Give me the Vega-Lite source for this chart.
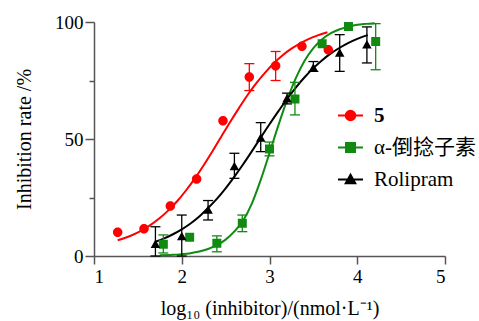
{
  "$schema": "https://vega.github.io/schema/vega-lite/v6.json",
  "width": 351,
  "height": 234,
  "autosize": {"type": "none"},
  "padding": {"left": 94, "top": 22, "right": 34, "bottom": 65},
  "background": "white",
  "config": {
    "view": {"stroke": null},
    "font": "Liberation Serif",
    "axis": {
      "grid": false,
      "domainColor": "#555",
      "domainWidth": 1.5,
      "tickColor": "#555",
      "tickWidth": 1.5,
      "labelFont": "Liberation Serif",
      "labelFontSize": 19,
      "labelColor": "#000",
      "titleFont": "Liberation Serif",
      "titleFontSize": 20,
      "titleFontWeight": "normal",
      "titleColor": "#000"
    }
  },
  "datasets": {
    "points": [
      {"series": "5", "x": 1.27, "y": 10.1, "lo": null, "hi": null},
      {"series": "5", "x": 1.57, "y": 11.6, "lo": null, "hi": null},
      {"series": "5", "x": 1.87, "y": 21.4, "lo": null, "hi": null},
      {"series": "5", "x": 2.17, "y": 32.9, "lo": null, "hi": null},
      {"series": "5", "x": 2.47, "y": 57.8, "lo": null, "hi": null},
      {"series": "5", "x": 2.77, "y": 76.5, "lo": 70.7, "hi": 82.2},
      {"series": "5", "x": 3.07, "y": 81.3, "lo": 75.0, "hi": 87.4},
      {"series": "5", "x": 3.37, "y": 89.6, "lo": null, "hi": null},
      {"series": "5", "x": 3.67, "y": 88.1, "lo": null, "hi": null},
      {"series": "α-倒捻子素", "x": 1.79, "y": 5.0, "lo": 1.3, "hi": 9.0},
      {"series": "α-倒捻子素", "x": 2.09, "y": 8.0, "lo": null, "hi": null},
      {"series": "α-倒捻子素", "x": 2.4, "y": 5.4, "lo": 1.8, "hi": 8.6},
      {"series": "α-倒捻子素", "x": 2.69, "y": 14.0, "lo": 10.4, "hi": 17.5},
      {"series": "α-倒捻子素", "x": 3.0, "y": 45.7, "lo": 42.8, "hi": 48.7},
      {"series": "α-倒捻子素", "x": 3.29, "y": 67.1, "lo": 60.3, "hi": 74.2},
      {"series": "α-倒捻子素", "x": 3.6, "y": 90.7, "lo": null, "hi": null},
      {"series": "α-倒捻子素", "x": 3.9, "y": 98.1, "lo": null, "hi": null},
      {"series": "α-倒捻子素", "x": 4.21, "y": 91.7, "lo": 79.6, "hi": 99.3},
      {"series": "Rolipram", "x": 1.7, "y": 5.0, "lo": 0, "hi": 12.5},
      {"series": "Rolipram", "x": 2.0, "y": 8.3, "lo": 0, "hi": 17.5},
      {"series": "Rolipram", "x": 2.3, "y": 19.7, "lo": 15.4, "hi": 23.7},
      {"series": "Rolipram", "x": 2.6, "y": 38.2, "lo": 33.2, "hi": 43.9},
      {"series": "Rolipram", "x": 2.9, "y": 50.4, "lo": 44.6, "hi": 57.0},
      {"series": "Rolipram", "x": 3.2, "y": 67.2, "lo": 65.0, "hi": 69.6},
      {"series": "Rolipram", "x": 3.5, "y": 80.3, "lo": 78.9, "hi": 83.1},
      {"series": "Rolipram", "x": 3.8, "y": 86.7, "lo": 78.9, "hi": 94.6},
      {"series": "Rolipram", "x": 4.11, "y": 90.3, "lo": 82.5, "hi": 97.9}
    ],
    "curves": [
      {"series": "5", "x": 1.27, "y": 6.7},
      {"series": "5", "x": 1.35, "y": 7.7},
      {"series": "5", "x": 1.45, "y": 9.2},
      {"series": "5", "x": 1.55, "y": 11.1},
      {"series": "5", "x": 1.65, "y": 13.4},
      {"series": "5", "x": 1.75, "y": 16.2},
      {"series": "5", "x": 1.85, "y": 19.6},
      {"series": "5", "x": 1.95, "y": 23.5},
      {"series": "5", "x": 2.05, "y": 28.1},
      {"series": "5", "x": 2.15, "y": 33.2},
      {"series": "5", "x": 2.25, "y": 38.8},
      {"series": "5", "x": 2.35, "y": 44.8},
      {"series": "5", "x": 2.45, "y": 51.0},
      {"series": "5", "x": 2.55, "y": 57.2},
      {"series": "5", "x": 2.65, "y": 63.1},
      {"series": "5", "x": 2.75, "y": 68.8},
      {"series": "5", "x": 2.85, "y": 73.9},
      {"series": "5", "x": 2.95, "y": 78.4},
      {"series": "5", "x": 3.05, "y": 82.4},
      {"series": "5", "x": 3.15, "y": 85.8},
      {"series": "5", "x": 3.25, "y": 88.6},
      {"series": "5", "x": 3.35, "y": 90.9},
      {"series": "5", "x": 3.45, "y": 92.8},
      {"series": "5", "x": 3.55, "y": 94.3},
      {"series": "5", "x": 3.66, "y": 95.6},
      {"series": "α-倒捻子素", "x": 1.75, "y": 0.3},
      {"series": "α-倒捻子素", "x": 1.9, "y": 0.5},
      {"series": "α-倒捻子素", "x": 2.0, "y": 0.8},
      {"series": "α-倒捻子素", "x": 2.1, "y": 1.2},
      {"series": "α-倒捻子素", "x": 2.2, "y": 1.9},
      {"series": "α-倒捻子素", "x": 2.3, "y": 3.0},
      {"series": "α-倒捻子素", "x": 2.4, "y": 4.6},
      {"series": "α-倒捻子素", "x": 2.5, "y": 7.0},
      {"series": "α-倒捻子素", "x": 2.6, "y": 10.5},
      {"series": "α-倒捻子素", "x": 2.7, "y": 15.2},
      {"series": "α-倒捻子素", "x": 2.8, "y": 22.5},
      {"series": "α-倒捻子素", "x": 2.9, "y": 32.5},
      {"series": "α-倒捻子素", "x": 3.0, "y": 44.0},
      {"series": "α-倒捻子素", "x": 3.1, "y": 55.7},
      {"series": "α-倒捻子素", "x": 3.2, "y": 66.6},
      {"series": "α-倒捻子素", "x": 3.3, "y": 76.0},
      {"series": "α-倒捻子素", "x": 3.4, "y": 83.4},
      {"series": "α-倒捻子素", "x": 3.5, "y": 88.8},
      {"series": "α-倒捻子素", "x": 3.6, "y": 92.6},
      {"series": "α-倒捻子素", "x": 3.7, "y": 95.2},
      {"series": "α-倒捻子素", "x": 3.8, "y": 96.9},
      {"series": "α-倒捻子素", "x": 3.9, "y": 98.0},
      {"series": "α-倒捻子素", "x": 4.0, "y": 98.8},
      {"series": "α-倒捻子素", "x": 4.1, "y": 99.2},
      {"series": "α-倒捻子素", "x": 4.2, "y": 99.5},
      {"series": "Rolipram", "x": 1.7, "y": 6.1},
      {"series": "Rolipram", "x": 1.8, "y": 7.5},
      {"series": "Rolipram", "x": 1.9, "y": 9.3},
      {"series": "Rolipram", "x": 2.0, "y": 11.4},
      {"series": "Rolipram", "x": 2.1, "y": 13.9},
      {"series": "Rolipram", "x": 2.2, "y": 16.9},
      {"series": "Rolipram", "x": 2.3, "y": 20.5},
      {"series": "Rolipram", "x": 2.4, "y": 24.4},
      {"series": "Rolipram", "x": 2.5, "y": 28.9},
      {"series": "Rolipram", "x": 2.6, "y": 33.9},
      {"series": "Rolipram", "x": 2.7, "y": 39.2},
      {"series": "Rolipram", "x": 2.8, "y": 44.8},
      {"series": "Rolipram", "x": 2.9, "y": 50.6},
      {"series": "Rolipram", "x": 3.0, "y": 56.3},
      {"series": "Rolipram", "x": 3.1, "y": 61.8},
      {"series": "Rolipram", "x": 3.2, "y": 67.1},
      {"series": "Rolipram", "x": 3.3, "y": 72.0},
      {"series": "Rolipram", "x": 3.4, "y": 76.4},
      {"series": "Rolipram", "x": 3.5, "y": 80.3},
      {"series": "Rolipram", "x": 3.6, "y": 83.7},
      {"series": "Rolipram", "x": 3.7, "y": 86.6},
      {"series": "Rolipram", "x": 3.8, "y": 89.0},
      {"series": "Rolipram", "x": 3.9, "y": 91.1},
      {"series": "Rolipram", "x": 4.0, "y": 92.8},
      {"series": "Rolipram", "x": 4.12, "y": 94.4}
    ]
  },
  "layer": [
    {
      "data": {"name": "curves"},
      "mark": {"type": "line", "strokeWidth": 2, "interpolate": "monotone"},
      "encoding": {
        "x": {
          "field": "x", "type": "quantitative",
          "scale": {"domain": [1, 5]},
          "axis": {"values": [1, 2, 3, 4, 5], "format": "d", "tickSize": 8, "labelPadding": 3, "titlePadding": 12, "title": "log₁₀ (inhibitor)/(nmol·L⁻¹)"}
        },
        "y": {
          "field": "y", "type": "quantitative",
          "scale": {"domain": [0, 100]},
          "axis": {
            "values": [0, 25, 50, 75, 100],
            "labelExpr": "datum.value % 50 === 0 ? datum.label : ''",
            "tickSize": {"condition": {"test": "datum.value % 50 === 0", "value": 9}, "value": 5},
            "labelPadding": 2,
            "titlePadding": 20,
            "title": "Inhibition rate /%"
          }
        },
        "color": {
          "field": "series", "type": "nominal",
          "scale": {"domain": ["5", "α-倒捻子素", "Rolipram"], "range": ["#ff0000", "#118a11", "#000000"]}
        }
      }
    },
    {
      "data": {"name": "points"},
      "mark": {"type": "rule", "strokeWidth": 1.3, "opacity": 1},
      "encoding": {
        "x": {"field": "x", "type": "quantitative"},
        "y": {"field": "lo", "type": "quantitative"},
        "y2": {"field": "hi"},
        "color": {"field": "series", "type": "nominal"}
      }
    },
    {
      "data": {"name": "points"},
      "mark": {"type": "tick", "orient": "horizontal", "size": 10, "thickness": 1.3, "opacity": 1},
      "encoding": {
        "x": {"field": "x", "type": "quantitative"},
        "y": {"field": "hi", "type": "quantitative"},
        "color": {"field": "series", "type": "nominal"}
      }
    },
    {
      "data": {"name": "points"},
      "mark": {"type": "tick", "orient": "horizontal", "size": 10, "thickness": 1.3, "opacity": 1},
      "encoding": {
        "x": {"field": "x", "type": "quantitative"},
        "y": {"field": "lo", "type": "quantitative"},
        "color": {"field": "series", "type": "nominal"}
      }
    },
    {
      "data": {"name": "points"},
      "mark": {"type": "point", "filled": true, "size": 625, "opacity": 1, "fillOpacity": 1},
      "encoding": {
        "x": {"field": "x", "type": "quantitative"},
        "y": {"field": "y", "type": "quantitative"},
        "strokeWidth": {"value": 0},
        "color": {
          "field": "series", "type": "nominal",
          "legend": {
            "title": null,
            "orient": "none",
            "legendX": 243,
            "legendY": 80,
            "padding": 0,
            "symbolSize": 625,
            "symbolStrokeWidth": 2,
            "symbolOpacity": 1,
            "labelFont": "Liberation Serif, Noto Sans CJK SC",
            "labelFontSize": 21,
            "labelColor": "#000",
            "labelOffset": 10,
            "rowPadding": 8,
            "labelFontWeight": {"expr": "datum.label === '5' ? 'bold' : 'normal'"}
          }
        },
        "shape": {
          "field": "series", "type": "nominal",
          "scale": {
            "domain": ["5", "α-倒捻子素", "Rolipram"],
            "range": [
              "M-1,0H1M0.38,0A0.38,0.38,0,1,1,-0.38,0A0.38,0.38,0,1,1,0.38,0Z",
              "M-1,0H1M-0.36,-0.36H0.36V0.36H-0.36Z",
              "M-1,0H1M0,-0.38L0.38,0.3L-0.38,0.3Z"
            ]
          }
        }
      }
    }
  ]
}
